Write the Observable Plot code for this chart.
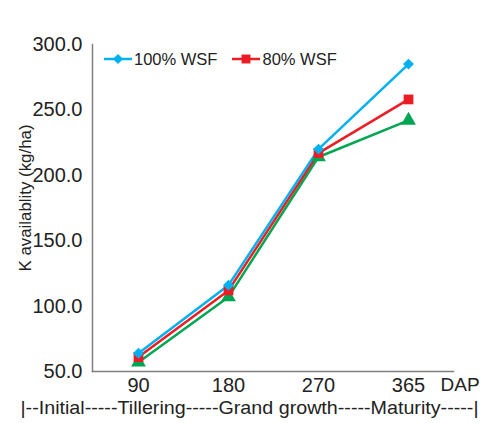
<!DOCTYPE html>
<html>
<head>
<meta charset="utf-8">
<script src="https://cdn.jsdelivr.net/npm/d3@7"></script>
<script src="https://cdn.jsdelivr.net/npm/@observablehq/plot@0.6"></script>
<style>
  html, body { margin: 0; padding: 0; background: #fff; }
  #wrap { position: relative; width: 482px; height: 423px; font-family: "Liberation Sans", Arial, sans-serif; }
  #legend { position: absolute; left: 104px; top: 49px; display: flex; gap: 0; font-size: 16.5px; color: #222; }
  .item { display: flex; align-items: center; margin-right: 15px; }
  .item svg { margin-right: 2px; }
</style>
</head>
<body>
<div id="wrap"></div>
<script>
const days = ["90", "180", "270", "365"];
const seriesNames = ["100% WSF", "80% WSF", "60% WSF"];
const wsf100 = [64, 116, 220, 285];
const wsf80 = [61, 112, 217, 258];
const wsf60 = [57, 107, 214, 242];
const yTicks = [50, 100, 150, 200, 250, 300];
const colors = ["#00B0F0", "#ED1C24", "#00A651"];
const legendShown = ["100% WSF", "80% WSF"];
const stageLabel = "|--Initial-----Tillering-----Grand growth-----Maturity-----|";
const yLabel = "K availablity (kg/ha)";

// square rotated 45° (Excel-style diamond marker)
const rhombus = {
  draw(context, size) {
    const h = Math.sqrt(size) * 0.56;
    context.moveTo(0, -h);
    context.lineTo(h, 0);
    context.lineTo(0, h);
    context.lineTo(-h, 0);
    context.closePath();
  }
};
const symbols = [rhombus, d3.symbolSquare, d3.symbolTriangle];

const seriesValues = [wsf100, wsf80, wsf60];
// draw order: green, red, blue (blue on top)
const data = [];
[2, 1, 0].forEach(si => {
  days.forEach((d, i) => data.push({day: d, value: seriesValues[si][i], series: seriesNames[si]}));
});

const font = "Liberation Sans, Arial, sans-serif";
const chart = Plot.plot({
  width: 482,
  height: 423,
  marginLeft: 92,
  marginRight: 29,
  marginTop: 44,
  marginBottom: 52,
  style: {fontFamily: font, fontSize: "20px", color: "#222", background: "#fff"},
  x: {type: "point", domain: days, padding: 0.5, label: null},
  y: {domain: [50, 300], label: null},
  color: {domain: seriesNames, range: colors},
  symbol: {domain: seriesNames, range: symbols},
  marks: [
    Plot.axisY({ticks: yTicks, tickFormat: d3.format(".1f"), tickSize: 0, tickPadding: 10, fontSize: 20, label: null}),
    Plot.axisX({tickSize: 0, tickPadding: 6, fontSize: 20, label: null}),
    Plot.frame({anchor: "left", stroke: "#7f7f7f", strokeWidth: 1.5}),
    Plot.frame({anchor: "bottom", stroke: "#7f7f7f", strokeWidth: 1.5}),
    Plot.line(data, {x: "day", y: "value", z: "series", stroke: "series", strokeWidth: 2.5}),
    Plot.dot(data, {x: "day", y: "value", fill: "series", symbol: "series", r: 5.5}),
    Plot.text(["DAP"], {frameAnchor: "bottom-right", textAnchor: "start", dx: -13, dy: 19, fontSize: 19, fill: "#222"}),
    Plot.text([stageLabel], {frameAnchor: "bottom", textAnchor: "middle", dx: -23.5, dy: 42, fontSize: 19, fill: "#222"}),
    Plot.text([yLabel], {frameAnchor: "left", textAnchor: "middle", rotate: -90, dx: -67, dy: -10, fontSize: 17, fill: "#222"})
  ]
});
const wrap = document.getElementById("wrap");
wrap.appendChild(chart);
d3.select(chart).selectAll("text").each(function() {
  const t = this.textContent;
  if (t === stageLabel) { this.setAttribute("textLength", 458); this.setAttribute("lengthAdjust", "spacingAndGlyphs"); }
  if (t === yLabel) { this.setAttribute("textLength", 147); this.setAttribute("lengthAdjust", "spacingAndGlyphs"); }
});

// legend overlay
const legend = document.createElement("div");
legend.id = "legend";
legendShown.forEach(name => {
  const i = seriesNames.indexOf(name);
  const item = document.createElement("div");
  item.className = "item";
  const ns = "http://www.w3.org/2000/svg";
  const s = document.createElementNS(ns, "svg");
  s.setAttribute("width", 28); s.setAttribute("height", 20);
  const ln = document.createElementNS(ns, "line");
  ln.setAttribute("x1", 0); ln.setAttribute("x2", 28); ln.setAttribute("y1", 10); ln.setAttribute("y2", 10);
  ln.setAttribute("stroke", colors[i]); ln.setAttribute("stroke-width", 2.5);
  s.appendChild(ln);
  const p = document.createElementNS(ns, "path");
  p.setAttribute("d", d3.symbol(symbols[i], 80)());
  p.setAttribute("transform", "translate(14,10)");
  p.setAttribute("fill", colors[i]);
  s.appendChild(p);
  item.appendChild(s);
  const t = document.createElement("span");
  t.textContent = name;
  item.appendChild(t);
  legend.appendChild(item);
});
wrap.appendChild(legend);
</script>
</body>
</html>
